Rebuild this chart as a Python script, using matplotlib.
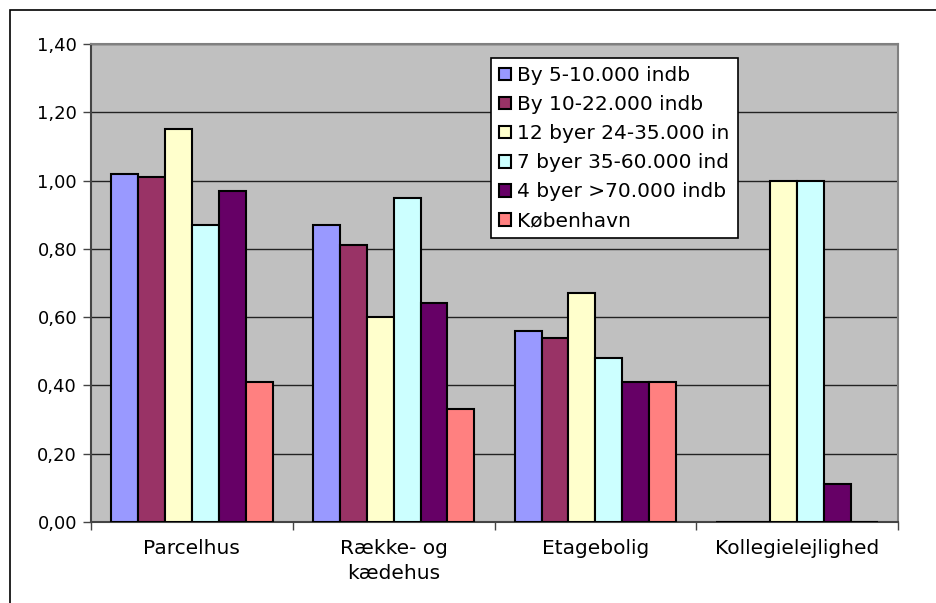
import matplotlib.pyplot as plt
import numpy as np
from matplotlib.patches import Rectangle

categories = ["Parcelhus", "Række- og\nkædehus", "Etagebolig", "Kollegielejlighed"]
series = ["By 5-10.000 indb", "By 10-22.000 indb", "12 byer 24-35.000 in",
          "7 byer 35-60.000 ind", "4 byer >70.000 indb", "København"]
values = [
    [1.02, 0.87, 0.56, 0.0],   # By 5-10.000
    [1.01, 0.81, 0.54, 0.0],   # By 10-22.000
    [1.15, 0.60, 0.67, 1.00],  # 12 byer
    [0.87, 0.95, 0.48, 1.00],  # 7 byer
    [0.97, 0.64, 0.41, 0.11],  # 4 byer
    [0.41, 0.33, 0.41, 0.0],   # København
]
colors = ["#9999FF", "#993366", "#FFFFCC", "#CCFFFF", "#660066", "#FF8080"]
yticks = [0.0, 0.2, 0.4, 0.6, 0.8, 1.0, 1.2, 1.4]

fig = plt.figure(figsize=(9.36, 6.03), dpi=100)
ax = fig.add_axes([91/936, 1-522/603, 807/936, 478/603])
ax.set_facecolor("#C0C0C0")

n = len(series)
bw = 1.0 / (n + 1.5)
x = np.arange(len(categories))
for i in range(n):
    off = (i - (n - 1) / 2) * bw
    ax.bar(x + off, values[i], bw, color=colors[i], edgecolor="black",
           linewidth=1.5, label=series[i], zorder=3)

ax.set_xlim(-0.5, len(categories) - 0.5)
ax.set_ylim(0, 1.4)
ax.set_yticks(yticks)
ax.set_yticklabels([f"{v:.2f}".replace(".", ",") for v in yticks], fontsize=13)
ax.yaxis.grid(True, color="#222222", linewidth=1, zorder=1)
ax.tick_params(axis="y", direction="out", length=6, width=1, color="#444444", pad=4)

ax.set_xticks(x)
ax.set_xticklabels(categories, fontsize=14.5, linespacing=1.45)
ax.tick_params(axis="x", length=0, pad=12)
ax.set_xticks(np.arange(len(categories) + 1) - 0.5, minor=True)
ax.tick_params(axis="x", which="minor", direction="out", length=6, width=1, color="#444444")

for s in ["top", "right"]:
    ax.spines[s].set_color("#808080")
    ax.spines[s].set_linewidth(1.5)
for s in ["left", "bottom"]:
    ax.spines[s].set_color("#444444")
    ax.spines[s].set_linewidth(1.5)

leg = ax.legend(loc="upper left", bbox_to_anchor=(491/936, 1-58/603),
                bbox_transform=fig.transFigure, borderaxespad=0, fontsize=14.5,
                handlelength=0.6, handleheight=0.6, handletextpad=0.3,
                labelspacing=0.5, borderpad=0.4, fancybox=False,
                framealpha=1, edgecolor="black", shadow=False)
leg.get_frame().set_linewidth(1.2)

fig.patches.append(Rectangle((10/936, -0.1), 1.2, 1 - 10/603 + 0.1,
                             transform=fig.transFigure, fill=False,
                             edgecolor="black", linewidth=1.2))

fig.savefig("out.png", dpi=100)
